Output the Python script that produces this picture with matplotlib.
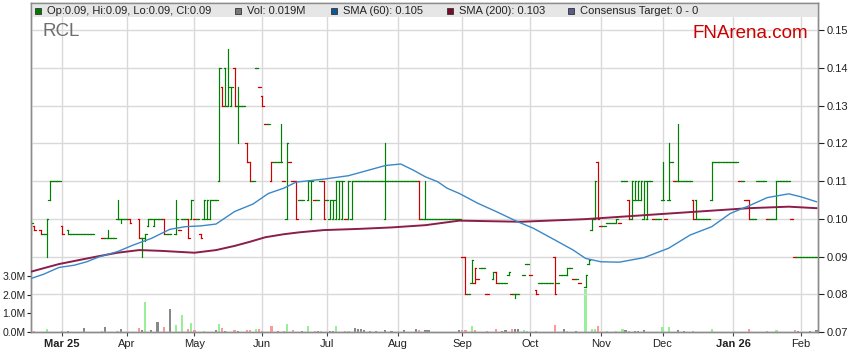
import numpy as np
import matplotlib.pyplot as plt
import matplotlib as mpl
from matplotlib.collections import LineCollection
from matplotlib.patches import Rectangle
from matplotlib.ticker import FormatStrFormatter

mpl.rcParams['font.family'] = ['Liberation Sans', 'DejaVu Sans']
mpl.rcParams['font.size'] = 8

START = '2025-02-17'  # first weekday on the chart

# daily OHLC bars (traded days only)
bar_dates = [
    # Feb 25
    '2025-02-17', '2025-02-18', '2025-02-20', '2025-02-21', '2025-02-24', '2025-02-25', '2025-02-26', '2025-02-27', '2025-02-28',
    # Mar
    '2025-03-03', '2025-03-05', '2025-03-06', '2025-03-07', '2025-03-10', '2025-03-11', '2025-03-12', '2025-03-13', '2025-03-14',
    '2025-03-17', '2025-03-20', '2025-03-21', '2025-03-24', '2025-03-25', '2025-03-26', '2025-03-27', '2025-03-28', '2025-03-31',
    # Apr
    '2025-04-01', '2025-04-02', '2025-04-07', '2025-04-08', '2025-04-09', '2025-04-10', '2025-04-11', '2025-04-14', '2025-04-15',
    '2025-04-16', '2025-04-17', '2025-04-18', '2025-04-21', '2025-04-23', '2025-04-24', '2025-04-25', '2025-04-28', '2025-04-29', '2025-04-30',
    # May
    '2025-05-01', '2025-05-02', '2025-05-05', '2025-05-06', '2025-05-07', '2025-05-08', '2025-05-09', '2025-05-12', '2025-05-13',
    '2025-05-14', '2025-05-15', '2025-05-16', '2025-05-19', '2025-05-20', '2025-05-21', '2025-05-22', '2025-05-23', '2025-05-26',
    '2025-05-27', '2025-05-28', '2025-05-29', '2025-05-30',
    # Jun
    '2025-06-02', '2025-06-03', '2025-06-04', '2025-06-05', '2025-06-06', '2025-06-09', '2025-06-10', '2025-06-11', '2025-06-12',
    '2025-06-13', '2025-06-16', '2025-06-17', '2025-06-18', '2025-06-19', '2025-06-23', '2025-06-24', '2025-06-25', '2025-06-26',
    '2025-06-27', '2025-06-30',
    # Jul
    '2025-07-01', '2025-07-02', '2025-07-03', '2025-07-04', '2025-07-07', '2025-07-08', '2025-07-09', '2025-07-10', '2025-07-11',
    '2025-07-14', '2025-07-15', '2025-07-16', '2025-07-17', '2025-07-18', '2025-07-21', '2025-07-22', '2025-07-23', '2025-07-24',
    '2025-07-25', '2025-07-28', '2025-07-29', '2025-07-30', '2025-07-31',
    # Aug
    '2025-08-01', '2025-08-04', '2025-08-05', '2025-08-06', '2025-08-07', '2025-08-08', '2025-08-11', '2025-08-12', '2025-08-13',
    '2025-08-14', '2025-08-15', '2025-08-18', '2025-08-19', '2025-08-20', '2025-08-21', '2025-08-22', '2025-08-25', '2025-08-26',
    '2025-08-27', '2025-08-28', '2025-08-29',
    # Sep
    '2025-09-01', '2025-09-02', '2025-09-03', '2025-09-04', '2025-09-05', '2025-09-08', '2025-09-09', '2025-09-10', '2025-09-11',
    '2025-09-15', '2025-09-16', '2025-09-17', '2025-09-18', '2025-09-19', '2025-09-22', '2025-09-23', '2025-09-24', '2025-09-25',
    '2025-09-29', '2025-09-30',
    # Oct
    '2025-10-01', '2025-10-03', '2025-10-06', '2025-10-07', '2025-10-08', '2025-10-09', '2025-10-10', '2025-10-13', '2025-10-14',
    '2025-10-15', '2025-10-16', '2025-10-17', '2025-10-20', '2025-10-21', '2025-10-22', '2025-10-23', '2025-10-27', '2025-10-28',
    '2025-10-29', '2025-10-30', '2025-10-31',
    # Nov
    '2025-11-03', '2025-11-04', '2025-11-05', '2025-11-06', '2025-11-07', '2025-11-10', '2025-11-11', '2025-11-12', '2025-11-13',
    '2025-11-14', '2025-11-17', '2025-11-18', '2025-11-19', '2025-11-20', '2025-11-21', '2025-11-24', '2025-11-25', '2025-11-26',
    '2025-11-27', '2025-11-28',
    # Dec
    '2025-12-01', '2025-12-02', '2025-12-03', '2025-12-04', '2025-12-05', '2025-12-08', '2025-12-09', '2025-12-10', '2025-12-11',
    '2025-12-12', '2025-12-15', '2025-12-16', '2025-12-17', '2025-12-18', '2025-12-19', '2025-12-22', '2025-12-23', '2025-12-24',
    '2025-12-25', '2025-12-26', '2025-12-29', '2025-12-30', '2025-12-31',
    # Jan 26
    '2026-01-01', '2026-01-02', '2026-01-05', '2026-01-06', '2026-01-07', '2026-01-08', '2026-01-09', '2026-01-12', '2026-01-13',
    '2026-01-14', '2026-01-15', '2026-01-16', '2026-01-19', '2026-01-20', '2026-01-21', '2026-01-22', '2026-01-23', '2026-01-26',
    '2026-01-27', '2026-01-28', '2026-01-29', '2026-01-30',
    # Feb
    '2026-02-02', '2026-02-03', '2026-02-04', '2026-02-05', '2026-02-06', '2026-02-09',
]

bar_open = [
    .096, .098, .097, .096, .096, .105, .110, .110, .110,
    .098, .097, .096, .096, .096, .096, .096, .096, .096, .096, .095, .095, .095, .095, .095, .100, .100, .100,
    .100, .100, .100, .095, .095, .098, .100, .098, .100, .100, .100, .096, .096, .096, .097, .100, .100, .100, .100,
    .100, .100, .096, .100, .100, .100, .105, .105, .110, .135, .140, .130, .130, .140, .130, .130, .130, .120, .115, .110, .140, .135,
    .1325, .125, .125, .110, .115, .115, .115, .110, .100, .115, .110, .110, .105, .105, .105, .100, .105, .105, .110, .110,
    .105, .100, .100, .100, .100, .100, .100, .100, .100, .110, .110, .110, .110, .110, .110, .110, .110, .110, .110, .100, .110, .110, .110,
    .110, .110, .110, .110, .110, .110, .110, .110, .100, .100, .100, .100, .100, .100, .100, .100, .100, .100, .100, .100, .100,
    .090, .090, .080, .083, .083, .084, .087, .087, .080, .084, .086, .083, .083, .083, .085, .080, .080, .080, .085, .088,
    .085, .081, .083, .083, .083, .083, .083, .090, .083, .085, .085, .085, .087, .084, .084, .083, .082, .088, .097, .100, .115,
    .098, .098, .099, .099, .099, .099, .099, .110, .110, .105, .100, .105, .105, .105, .100, .100, .110, .100, .100, .100,
    .105, .100, .105, .115, .110, .110, .110, .110, .110, .110, .105, .105, .100, .100, .100, .100, .105, .115, .115, .115, .115, .115, .115,
    .115, .115, .110, .110, .105, .105, .100, .100, .110, .110, .110, .100, .100, .100, .100, .110, .110, .110, .110, .100, .090, .090,
    .090, .090, .090, .090, .090, .090,
]

bar_high = [
    .099, .098, .097, .096, .100, .110, .110, .110, .110,
    .098, .097, .096, .096, .096, .096, .096, .096, .096, .096, .095, .095, .097, .095, .095, .105, .100, .100,
    .100, .100, .100, .095, .096, .100, .100, .100, .100, .100, .100, .096, .096, .105, .097, .100, .100, .100, .105,
    .100, .100, .096, .105, .105, .105, .105, .105, .140, .135, .140, .145, .135, .140, .135, .130, .130, .120, .115, .110, .140, .135,
    .1325, .125, .125, .115, .115, .115, .125, .110, .120, .115, .110, .110, .105, .105, .110, .110, .105, .105, .110, .110,
    .105, .105, .105, .110, .110, .110, .100, .110, .110, .110, .110, .110, .110, .110, .110, .110, .110, .110, .110, .120, .110, .110, .110,
    .110, .110, .110, .110, .110, .110, .110, .110, .100, .110, .100, .100, .100, .100, .100, .100, .100, .100, .100, .100, .100,
    .090, .090, .080, .089, .087, .084, .087, .087, .080, .086, .086, .083, .083, .083, .086, .080, .080, .080, .085, .088,
    .085, .081, .083, .083, .083, .083, .083, .090, .083, .085, .085, .087, .087, .084, .084, .083, .085, .089, .100, .110, .115,
    .098, .098, .099, .099, .099, .100, .099, .110, .110, .105, .110, .110, .110, .110, .110, .110, .110, .100, .100, .100,
    .115, .100, .120, .115, .110, .125, .110, .110, .110, .110, .105, .105, .100, .100, .100, .100, .115, .115, .115, .115, .115, .115, .115,
    .115, .115, .110, .110, .105, .105, .100, .100, .110, .110, .110, .100, .100, .100, .110, .110, .110, .110, .110, .100, .090, .090,
    .090, .090, .090, .090, .090, .090,
]

bar_low = [
    .096, .097, .096, .096, .090, .105, .110, .110, .110,
    .096, .096, .096, .096, .096, .096, .096, .096, .096, .096, .095, .095, .095, .095, .095, .100, .099, .100,
    .100, .099, .095, .090, .094, .098, .100, .098, .100, .100, .096, .096, .096, .096, .097, .100, .100, .095, .100,
    .100, .100, .095, .100, .100, .100, .105, .105, .110, .130, .130, .130, .130, .130, .120, .130, .130, .115, .110, .110, .140, .135,
    .130, .125, .125, .110, .115, .115, .115, .110, .100, .115, .110, .100, .105, .105, .105, .100, .105, .105, .110, .100,
    .105, .100, .100, .100, .100, .100, .100, .100, .100, .110, .110, .110, .110, .110, .110, .110, .110, .110, .110, .100, .110, .110, .110,
    .110, .110, .110, .110, .110, .110, .110, .100, .100, .100, .100, .100, .100, .100, .100, .100, .100, .100, .100, .100, .100,
    .090, .080, .080, .083, .083, .084, .087, .087, .080, .084, .083, .083, .083, .083, .085, .080, .079, .080, .085, .088,
    .085, .080, .083, .083, .083, .083, .083, .080, .083, .085, .085, .085, .087, .084, .084, .083, .082, .088, .097, .100, .100,
    .098, .098, .099, .099, .099, .099, .099, .110, .110, .100, .100, .105, .105, .105, .100, .100, .110, .100, .100, .100,
    .105, .100, .105, .115, .110, .110, .110, .110, .110, .110, .100, .100, .100, .100, .100, .100, .105, .115, .115, .115, .115, .115, .115,
    .115, .115, .110, .110, .105, .100, .100, .100, .110, .110, .110, .100, .100, .100, .100, .110, .110, .110, .110, .100, .090, .090,
    .090, .090, .090, .090, .090, .090,
]

bar_close = [
    .099, .097, .096, .096, .100, .110, .110, .110, .110,
    .096, .096, .096, .096, .096, .096, .096, .096, .096, .096, .095, .095, .095, .095, .095, .100, .100, .100,
    .100, .099, .095, .095, .096, .100, .100, .100, .100, .100, .096, .096, .096, .100, .097, .100, .100, .095, .105,
    .100, .100, .095, .105, .105, .105, .105, .105, .140, .130, .130, .135, .135, .130, .130, .130, .130, .115, .110, .110, .140, .135,
    .130, .125, .125, .115, .115, .115, .115, .110, .120, .115, .110, .100, .105, .105, .110, .110, .105, .105, .110, .100,
    .105, .105, .105, .110, .110, .110, .100, .110, .110, .110, .110, .110, .110, .110, .110, .110, .110, .110, .110, .110, .110, .110, .110,
    .110, .110, .110, .110, .110, .110, .110, .100, .100, .100, .100, .100, .100, .100, .100, .100, .100, .100, .100, .100, .100,
    .090, .080, .080, .089, .087, .084, .087, .087, .080, .086, .083, .083, .083, .083, .086, .080, .080, .080, .085, .088,
    .085, .080, .083, .083, .083, .083, .083, .080, .083, .085, .085, .087, .087, .084, .084, .083, .085, .089, .100, .110, .100,
    .098, .098, .099, .099, .099, .100, .099, .110, .110, .100, .110, .110, .110, .110, .110, .110, .110, .100, .100, .100,
    .105, .100, .105, .115, .110, .110, .110, .110, .110, .110, .100, .100, .100, .100, .100, .100, .115, .115, .115, .115, .115, .115, .115,
    .115, .115, .110, .110, .105, .100, .100, .100, .110, .110, .110, .100, .100, .100, .110, .110, .110, .110, .110, .100, .090, .090,
    .090, .090, .090, .090, .090, .090,
]

# daily volume, millions of shares
vol_dates = [
    '2025-02-17', '2025-02-18', '2025-02-24',
    '2025-03-03', '2025-03-05', '2025-03-12', '2025-03-20', '2025-03-21', '2025-03-27', '2025-03-28',
    '2025-04-07', '2025-04-08', '2025-04-09', '2025-04-11', '2025-04-15', '2025-04-17', '2025-04-21', '2025-04-23', '2025-04-25',
    '2025-04-29', '2025-04-30',
    '2025-05-01', '2025-05-06', '2025-05-12', '2025-05-13', '2025-05-14', '2025-05-15', '2025-05-20', '2025-05-21', '2025-05-26',
    '2025-05-27', '2025-05-29', '2025-05-30',
    '2025-06-02', '2025-06-05', '2025-06-09', '2025-06-11', '2025-06-12', '2025-06-16', '2025-06-19', '2025-06-23', '2025-06-25',
    '2025-06-26', '2025-06-27',
    '2025-07-02', '2025-07-03', '2025-07-04', '2025-07-09', '2025-07-10', '2025-07-14', '2025-07-15', '2025-07-16', '2025-07-17',
    '2025-07-21', '2025-07-23', '2025-07-28', '2025-07-30',
    '2025-08-05', '2025-08-11', '2025-08-12', '2025-08-14', '2025-08-15', '2025-08-29',
    '2025-09-01', '2025-09-02', '2025-09-04', '2025-09-05', '2025-09-11', '2025-09-16', '2025-09-18', '2025-09-19', '2025-09-23',
    '2025-09-24', '2025-09-25', '2025-09-29', '2025-09-30',
    '2025-10-03', '2025-10-13', '2025-10-16', '2025-10-17', '2025-10-22', '2025-10-27', '2025-10-29', '2025-10-30', '2025-10-31',
    '2025-11-05', '2025-11-10', '2025-11-12', '2025-11-13', '2025-11-14', '2025-11-18', '2025-11-19', '2025-11-21',
    '2025-12-01', '2025-12-03', '2025-12-08', '2025-12-10', '2025-12-15', '2025-12-23',
    '2026-01-08', '2026-01-16', '2026-01-21', '2026-01-29', '2026-01-30',
    '2026-02-05', '2026-02-09',
]
vol_m = [
    0.07, 0.05, 0.14,
    0.06, 0.08, 0.20, 0.05, 0.25, 0.05, 0.14,
    0.20, 0.09, 1.60, 0.09, 0.54, 0.27, 1.21, 0.36, 0.90, 0.14, 0.46,
    0.10, 0.05, 0.10, 0.41, 0.20, 0.07, 0.10, 0.07, 0.10, 0.10, 0.14, 0.14,
    0.05, 0.30, 0.05, 0.05, 0.41, 0.10, 0.07, 0.30, 0.05, 0.07, 0.08,
    0.05, 0.04, 0.30, 0.05, 0.05, 0.23, 0.14, 0.18, 0.09, 0.05, 0.05, 0.09, 0.05,
    0.09, 0.14, 0.09, 0.09, 0.09, 0.09,
    0.09, 0.09, 0.30, 0.09, 0.05, 0.14, 0.05, 0.10, 0.18, 0.14, 0.14, 0.09, 0.05,
    0.05, 0.36, 0.18, 0.05, 0.05, 2.30, 0.14, 0.14, 0.30,
    0.05, 0.05, 0.14, 0.09, 0.05, 0.05, 0.05, 0.09,
    0.25, 0.25, 0.09, 0.05, 0.05, 0.14,
    0.14, 0.05, 0.09, 0.09, 0.05,
    0.05, 0.09,
]

# moving averages, read at points along the lines
sma60_dates = [
    '2025-02-17', '2025-02-21', '2025-02-28', '2025-03-07', '2025-03-13', '2025-03-19', '2025-03-27', '2025-04-03',
    '2025-04-11', '2025-04-21', '2025-04-28', '2025-05-05', '2025-05-12', '2025-05-20', '2025-05-28', '2025-06-04',
    '2025-06-11', '2025-06-17', '2025-06-30', '2025-07-10', '2025-07-28', '2025-08-04', '2025-08-08', '2025-08-14',
    '2025-08-20', '2025-08-25', '2025-08-29', '2025-09-08', '2025-09-16', '2025-09-25', '2025-10-02', '2025-10-13',
    '2025-10-21', '2025-10-27', '2025-11-03', '2025-11-11', '2025-11-21', '2025-12-03', '2025-12-12', '2025-12-23',
    '2025-12-31', '2026-01-08', '2026-01-16', '2026-01-27', '2026-02-02', '2026-02-09',
]
sma60 = [
    .0842, .0853, .0871, .0877, .0886, .0899, .0913, .0930,
    .0948, .0972, .0979, .0981, .0986, .1019, .1039, .1067,
    .1081, .1097, .1105, .1114, .1141, .1145, .1129, .1111,
    .1098, .1081, .1067, .1041, .1019, .0992, .0975, .0944,
    .0917, .0895, .0886, .0885, .0897, .0922, .0957, .0979,
    .1014, .1034, .1056, .1066, .1058, .1045,
]
sma200_dates = [
    '2025-02-17', '2025-02-21', '2025-02-28', '2025-03-12', '2025-03-19', '2025-03-27', '2025-04-07', '2025-04-16',
    '2025-05-01', '2025-05-12', '2025-05-20', '2025-05-27', '2025-06-03', '2025-06-11', '2025-06-18', '2025-06-30',
    '2025-07-15', '2025-07-30', '2025-08-14', '2025-08-29', '2025-09-26', '2025-10-27', '2025-11-11', '2025-12-09',
    '2026-01-08', '2026-01-27', '2026-02-09',
]
sma200 = [
    .0860, .0869, .0880, .0893, .0901, .0910, .0917, .0915,
    .0910, .0917, .0928, .0939, .0951, .0959, .0964, .0970,
    .0973, .0977, .0983, .0995, .0992, .0999, .1005, .1016,
    .1028, .1032, .1028,
]

month_starts = ['2025-03-01', '2025-04-01', '2025-05-01', '2025-06-01', '2025-07-01', '2025-08-01',
                '2025-09-01', '2025-10-01', '2025-11-01', '2025-12-01', '2026-01-01', '2026-02-01']
month_labels = ['Mar 25', 'Apr', 'May', 'Jun', 'Jul', 'Aug', 'Sep', 'Oct', 'Nov', 'Dec', 'Jan 26', 'Feb']

price_ticks = [0.07, 0.08, 0.09, 0.10, 0.11, 0.12, 0.13, 0.14, 0.15]
vol_ticks = [0, 1, 2, 3]


def day_pos(dates):
    return np.busday_count(START, np.array(dates, dtype='datetime64[D]'))


W, H = 859.0, 363.0
fig = plt.figure(figsize=(W / 100, H / 100), dpi=100)
axv = fig.add_axes([31 / W, (H - 332) / H, (818 - 31) / W, (332 - 3) / H])
ax = axv.twinx()

# bars
o, hi, lo, c = (np.array(v) for v in (bar_open, bar_high, bar_low, bar_close))
xb = day_pos(bar_dates)
prev = np.r_[c[0], c[:-1]]
segs, cols = [], []
for x, oo, hh, ll, cc, pp in zip(xb, o, hi, lo, c, prev):
    col = '#D00000' if cc < pp else '#008000'
    segs += [[(x, ll), (x, hh)], [(x - 0.5, oo), (x, oo)], [(x, cc), (x + 0.5, cc)]]
    cols += [col] * 3
ax.add_collection(LineCollection(segs, colors=cols, linewidths=0.85, zorder=2, capstyle='projecting'))

# volume
chg = dict(zip(bar_dates, np.sign(c - prev)))
vpal = {1: '#99EE99', -1: '#FF9999', 0: '#888888'}
vcols = [vpal[int(chg.get(d, 0))] for d in vol_dates]
axv.bar(day_pos(vol_dates), vol_m, width=0.7, color=vcols, linewidth=0, zorder=2)

# moving averages
ax.plot(day_pos(sma200_dates), sma200, color='#8B1E48', lw=1.4, zorder=3, solid_joinstyle='round')
ax.plot(day_pos(sma60_dates), sma60, color='#3A88C8', lw=1.0, zorder=3, solid_joinstyle='round')

axv.set_xlim(-0.1, 255.5)
axv.set_ylim(0, 329 / 18.7)
ax.set_ylim(0.07, 0.07 + 329 / 3775)

mt = np.busday_offset(np.array(month_starts, dtype='datetime64[D]'), 0, roll='forward')
axv.set_xticks(day_pos(mt))
axv.set_xticklabels(month_labels)
for lab in axv.get_xticklabels():
    if ' ' in lab.get_text():
        lab.set_fontweight('bold')
axv.set_yticks(vol_ticks)
axv.set_yticklabels(['%.1fM' % v for v in vol_ticks])
ax.set_yticks(price_ticks)
ax.yaxis.set_major_formatter(FormatStrFormatter('%.2f'))

grid_col = '#D9D9D9'
axv.set_axisbelow(True)
axv.xaxis.grid(True, color=grid_col, lw=1)
ax.set_axisbelow(True)
ax.yaxis.grid(True, color=grid_col, lw=1)

axv.tick_params(axis='x', length=3, pad=2, labelsize=8, color='#444444', labelcolor='#222222')
axv.tick_params(axis='y', length=3, pad=0.8, labelsize=7.6, color='#222222', labelcolor='#222222')
ax.tick_params(axis='y', length=4, pad=2, labelsize=8, color='#222222', labelcolor='#222222')
for a in (ax, axv):
    for sp in a.spines.values():
        sp.set_color('#8C8C8C')
        sp.set_linewidth(1)

# header strip with legend
ax.add_patch(Rectangle((0, 1 - 14 / 329), 1, 14 / 329, transform=ax.transAxes,
                       facecolor='#E6E6E6', edgecolor='none', zorder=1.5))
legend = [(35, 47, '#007A00', 'Op:0.09, Hi:0.09, Lo:0.09, Cl:0.09'),
          (235, 247, '#777777', 'Vol: 0.019M'),
          (331, 343, '#0A5A9A', 'SMA (60): 0.105'),
          (447, 459, '#7A0A2A', 'SMA (200): 0.103'),
          (568, 580, '#5A5A8C', 'Consensus Target: 0 - 0')]
for sx, tx, col, txt in legend:
    fig.add_artist(Rectangle((sx / W, 1 - 13.5 / H), 6 / W, 6 / H, transform=fig.transFigure,
                             facecolor=col, edgecolor='#333333', lw=0.6))
    fig.text(tx / W, 1 - 10.5 / H, txt, va='center', ha='left', fontsize=8, color='#222222')

fig.text(42 / W, 1 - 31 / H, 'RCL', fontsize=13.5, color='#6E6E6E', va='center', ha='left')
fig.text(808 / W, 1 - 33 / H, 'FNArena.com', fontsize=13.5, color='#CC0000', va='center', ha='right')

fig.savefig('out.png', dpi=100)
